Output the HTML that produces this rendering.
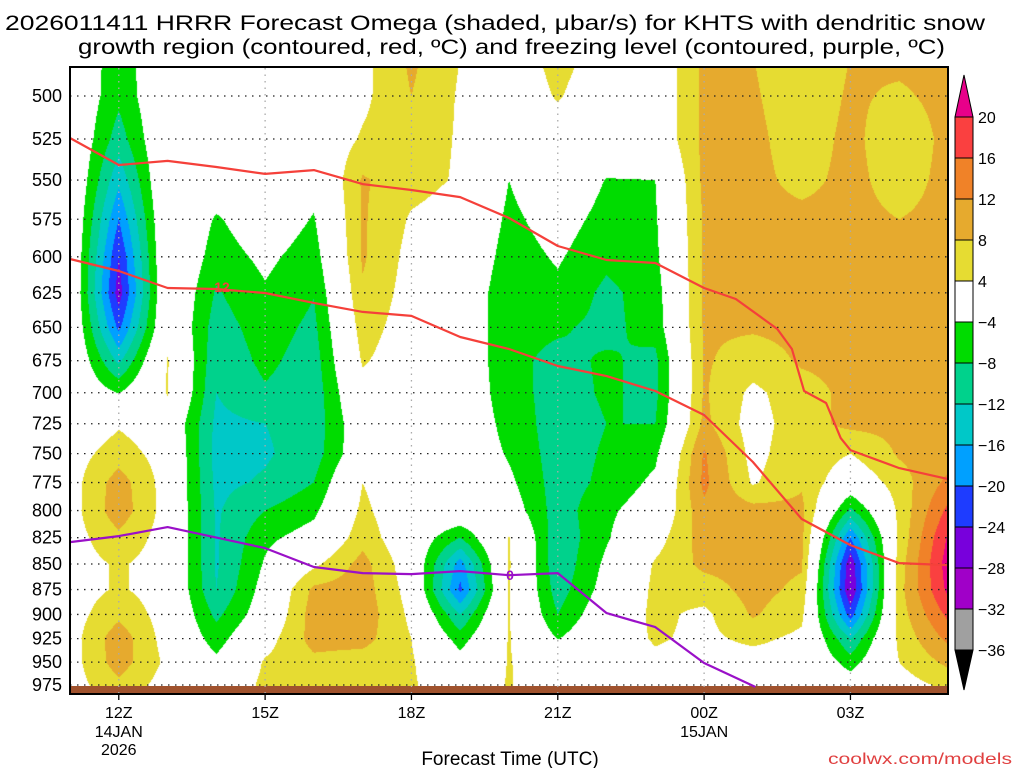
<!DOCTYPE html>
<html><head><meta charset="utf-8"><style>
html,body{margin:0;padding:0;background:#fff;}
#wrap{position:relative;width:1024px;height:768px;overflow:hidden;font-family:"Liberation Sans",sans-serif;}
#field{position:absolute;left:70px;top:68px;}
#ov{position:absolute;left:0;top:0;}
</style></head><body>
<div id="wrap">
<canvas id="field" width="878" height="626"></canvas>
<svg id="ov" width="1024" height="768"></svg>
</div>
<script>
// ---- data ----
const hourLabels = ["11Z","12Z","13Z","14Z","15Z","16Z","17Z","18Z","19Z","20Z","21Z","22Z","23Z","00Z","01Z","02Z","03Z","04Z","05Z"];
const pressureRows = [475,500,525,550,575,600,625,650,675,700,725,750,775,800,825,850,875,900,925,950,975,1000];
const omega = [
[0,-6,0,0,0,0,2.5,9,4,1,6,2,0,9,8,5,8,9,9],
[1,-7,1,0,0,0,3,8,3.5,0,4.5,0,0,9,8.5,5.5,8.5,7.5,9],
[1.5,-10,1.5,0,0,0,4.5,6.5,3.5,0,1,0,0,9,9,6,9,5.5,9],
[2,-15,2,-1,0,-2.5,8.5,5.5,3.5,-4,0,-4.2,-4,9,9,7,9,6.5,9],
[2,-20,2,-4.5,-1,-4.3,8.5,3.5,2,-5,-2,-5.5,-4.5,8.5,9,9,9,8,9],
[2,-24,2,-6,-3,-6,8.5,2.5,1,-6,-3.5,-7,-5,8.5,9,9,9,9,9],
[2,-26,2,-8.5,-4.5,-7.8,7.5,2,0,-7,-5,-9,-6,8.5,9,9,9,9,9],
[2,-21,2,-10,-6,-9,6,1.5,0,-7,-7.5,-9,-6.5,8.5,8.5,9,9,9,9],
[2,-13,4.3,-11,-7,-10,4.5,1,0,-7,-9,-7.5,-9,8.5,6,8.5,9,9,9],
[1,-4.2,4.3,-12,-8.5,-10.5,2,0.5,0,-6.5,-9.5,-7.5,-9,8.5,3,6.5,9,9,9],
[0,3.5,1,-13,-12,-10.5,0,0,0,-5.5,-10,-8,-8,9,2,6.5,9,9,9],
[2,6,2,-13.5,-12.5,-10,0,0,0,-4.5,-10,-7.5,-5,12.5,2.5,7,4,8.5,10],
[2,10,2,-13,-11.5,-8,4,0,0,-3,-10,-7,-3,13,3.5,7.5,0,6,13],
[2,10.5,2,-12.5,-8,-5,5,0,1,-1,-10,-5,-1,11,9.5,9,-9,5,17],
[2,7,2,-12.5,-5,-2,6.5,0,-8,4.3,-11,-4.5,2,10,9.5,9,-20,5,20.5],
[2,4.5,2,-12.5,-3.5,3,9.5,1,-18,4.5,-11,-3,4.5,9,9.5,8.5,-27,6,22],
[2,4.5,2,-12,-2,9,10,2,-21,4.3,-10,-2,5,6,9.5,7,-28,6.5,21],
[2,7,2,-9,-1,10,10.5,3,-12,4.3,-8,0,5,3,8.5,5,-22,6,17],
[2,10.5,2,-6,2,9.5,9.5,4,-6,4.3,-4.2,1,4.5,3,5,3,-12,5,13],
[2,10,3,-3,4.5,7,6,4.5,-2,4.3,0,1,3,2,2,2,-6,4,9],
[2,7,2,0,5,5.5,5,4.5,1,4.3,1,1,1,1,1,1,-1,2,5],
[2,5,2,0,4,4,4,4,1,4.3,1,1,1,1,1,1,0,2,4]
];
const dgzTopT = [0,1,2,3,4,5,6,7,8,9,10,11,12,13,13.65,14.5,14.8,15.05,15.5,15.8,16,17,18];
const dgzTopP = [524.4,540.7,538.2,541.9,546.2,543.8,552.5,556.2,560.7,574.2,592.7,602.2,604.2,621.6,629.4,651.2,666.1,698.6,708.2,736.9,747.0,762.4,772.0];
const dgzBotT = [0,1,2,3,4,5,6,7,8,9,10,11,12,13,14,15,16,17,18];
const dgzBotP = [601.5,609.7,621.6,622.3,625.1,632.2,638.7,641.6,657.1,666.1,679.1,686.9,698.6,717.9,757.2,807.7,832.0,849.1,851.0];
const frzT = [0,1,2,4,5,6,7,8,9,10,11,12,13,14.05];
const frzP = [829.1,823.5,815.2,834.8,852.9,858.8,859.8,856.9,860.8,858.8,898.6,913.0,950.9,977.1];
const yTickLabels = [500,525,550,575,600,625,650,675,700,725,750,775,800,825,850,875,900,925,950,975];
const xTickHours = [1,4,7,10,13,16];
const xTickLabels = ["12Z","15Z","18Z","21Z","00Z","03Z"];
const levels = [-36,-32,-28,-24,-20,-16,-12,-8,-4,4,8,12,16,20];
const levelLabels = ["-36","-32","-28","-24","-20","-16","-12","-8","-4","4","8","12","16","20"];
const colors = ["#000000","#a0a0a0","#a000c8","#7800dc","#1e3cff","#00a0ff","#00c8c8","#00d28c","#00dc00","#ffffff","#e6dc32","#e6aa2e","#f08228","#fa4040","#e8008a"];

// ---- axes ----
const X0=70, X1=948, PXH=(948-70)/18;
const xOf = t => X0 + t*PXH;
const yOf = p => 96 + 882*Math.log(p/500);
const tOfX = x => (x-X0)/PXH;
const pOfY = y => 500*Math.exp((y-96)/882);

// ---- shading ----
function hex(c){return [parseInt(c.substr(1,2),16),parseInt(c.substr(3,2),16),parseInt(c.substr(5,2),16)];}
const rgb = colors.map(hex);
const cv=document.getElementById('field'), ctx=cv.getContext('2d');
const img=ctx.createImageData(cv.width,cv.height);
const nR=pressureRows.length, nC=hourLabels.length;
for(let py=0;py<cv.height;py++){
  const p=pOfY(68+py+0.5);
  let r=(p-pressureRows[0])/25; r=Math.max(0,Math.min(nR-1.0001,r));
  const r0=Math.floor(r), fr=r-r0;
  for(let px=0;px<cv.width;px++){
    let c=tOfX(70+px+0.5); c=Math.max(0,Math.min(nC-1.0001,c));
    const c0=Math.floor(c), fc=c-c0;
    const v=(omega[r0][c0]*(1-fc)+omega[r0][c0+1]*fc)*(1-fr)+(omega[r0+1][c0]*(1-fc)+omega[r0+1][c0+1]*fc)*fr;
    let k=0; while(k<levels.length && v>=levels[k]) k++;
    const col=rgb[k], i=(py*cv.width+px)*4;
    img.data[i]=col[0];img.data[i+1]=col[1];img.data[i+2]=col[2];img.data[i+3]=255;
  }
}
ctx.putImageData(img,0,0);

// ---- overlay ----
const NS="http://www.w3.org/2000/svg", svg=document.getElementById('ov');
function mk(tag,attrs,parent){const e=document.createElementNS(NS,tag);for(const k in attrs)e.setAttribute(k,attrs[k]);(parent||svg).appendChild(e);return e;}

// ground
const g1=mk('rect',{x:70,y:686,width:878,height:8,fill:'#a0522d'});



// grid
yTickLabels.forEach(p=>{
  const l=mk('line',{x1:70,x2:948,y1:yOf(p),y2:yOf(p),stroke:'#222','stroke-width':1.3,'stroke-dasharray':'1.5 5.5'});
  
  
  const t=mk('text',{x:62,y:yOf(p)+6,'text-anchor':'end','font-size':18,fill:'#000'});
  t.textContent=p;
  
  
});
xTickHours.forEach((h,i)=>{
  const l=mk('line',{x1:xOf(h),x2:xOf(h),y1:68,y2:694,stroke:'#aaa','stroke-width':1.3,'stroke-dasharray':'1.5 5'});
  
  
  const tk=mk('line',{x1:xOf(h),x2:xOf(h),y1:694,y2:700,stroke:'#000','stroke-width':1.3});
  
  
  const t=mk('text',{x:xOf(h),y:718,'text-anchor':'middle','font-size':16});
  t.textContent=xTickLabels[i];
  
  
});
[[1,"14JAN",737],[1,"2026",755],[13,"15JAN",737]].forEach(d=>{
  const t=mk('text',{x:xOf(d[0]),y:d[2],'text-anchor':'middle','font-size':16});
  t.textContent=d[1];
  
  
});

function poly(T,P,color,name){
  const pts=T.map((t,i)=>xOf(t).toFixed(1)+','+yOf(P[i]).toFixed(1)).join(' ');
  const e=mk('polyline',{points:pts,fill:'none',stroke:color,'stroke-width':2.2,'stroke-linejoin':'round'});
  
  
}
poly(dgzTopT,dgzTopP,'#f5403a','dgz-top-contour');
poly(dgzBotT,dgzBotP,'#f5403a','dgz-bottom-contour');
poly(frzT,frzP,'#9a10c8','freezing-level-contour');
const l12=mk('text',{x:222,y:292,'text-anchor':'middle','font-size':14,'font-weight':'bold',fill:'#f5403a'});
l12.textContent='12';


const l0=mk('text',{x:510,y:580,'text-anchor':'middle','font-size':14,'font-weight':'bold',fill:'#9a10c8'});
l0.textContent='0';



// frame
const fr=mk('rect',{x:70,y:67,width:878,height:627,fill:'none',stroke:'#000','stroke-width':2});



// colorbar
const CB0=117, CBS=41, CBX=955, CBW=18;
for(let k=1;k<colors.length-1;k++){
  const yTop=CB0+(levels.length-1-k)*CBS;
  const r=mk('rect',{x:CBX,y:yTop,width:CBW,height:CBS,fill:colors[k],stroke:'#000','stroke-width':1});
  
  
}
const yLow=CB0+(levels.length-1)*CBS;
const at=mk('polygon',{points:`${CBX},${CB0} ${CBX+CBW},${CB0} ${CBX+CBW/2},75`,fill:colors[colors.length-1],stroke:'#000','stroke-width':1});


const ab=mk('polygon',{points:`${CBX},${yLow} ${CBX+CBW},${yLow} ${CBX+CBW/2},690`,fill:'#000',stroke:'#000','stroke-width':1});


levels.forEach((lv,i)=>{
  const y=CB0+(levels.length-1-i)*CBS;
  const t=mk('text',{x:978,y:y+6,'font-size':16});
  t.textContent=levelLabels[i].replace('-','\u2212');
  
  
});

// titles
const t1=mk('text',{x:5,y:30,'font-size':21,textLength:980,lengthAdjust:'spacingAndGlyphs'});
t1.textContent='2026011411 HRRR Forecast Omega (shaded, \u03bcbar/s) for KHTS with dendritic snow';


const t2=mk('text',{x:78,y:54,'font-size':21,textLength:867,lengthAdjust:'spacingAndGlyphs'});
t2.textContent='growth region (contoured, red, \u00baC) and freezing level (contoured, purple, \u00baC)';


const xt=mk('text',{x:510,y:765,'text-anchor':'middle','font-size':19});
xt.textContent='Forecast Time (UTC)';


const cr=mk('text',{x:828,y:764,'font-size':16,fill:'#e04040',textLength:184,lengthAdjust:'spacingAndGlyphs'});
cr.textContent='coolwx.com/models';


</script>
</body></html>
